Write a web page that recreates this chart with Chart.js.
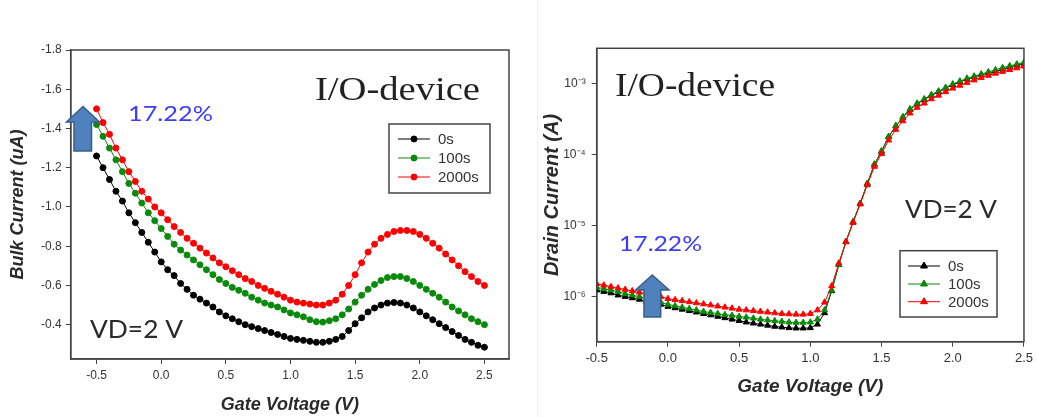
<!DOCTYPE html>
<html>
<head>
<meta charset="utf-8">
<script src="https://cdn.jsdelivr.net/npm/chart.js@4.4.1/dist/chart.umd.min.js"></script>
<style>
body { margin:0; background:#fff; width:1037px; height:417px; overflow:hidden; position:relative; }
#bulkChart { position:absolute; left:0; top:0; }
#drainChart { position:absolute; left:520px; top:0; }
#sep { position:absolute; left:537px; top:0; width:1px; height:417px; background:#f0f0f0; }
</style>
</head>
<body>
<canvas id="bulkChart" width="520" height="417"></canvas>
<div id="sep"></div>
<canvas id="drainChart" width="517" height="417"></canvas>
<script>
// gate voltage sweep (V)
const gateVoltage = [-0.5,-0.45,-0.4,-0.35,-0.3,-0.25,-0.2,-0.15,-0.1,-0.05,
    0,0.05,0.1,0.15,0.2,0.25,0.3,0.35,0.4,0.45,
    0.5,0.55,0.6,0.65,0.7,0.75,0.8,0.85,0.9,0.95,
    1,1.05,1.1,1.15,1.2,1.25,1.3,1.35,1.4,1.45,
    1.5,1.55,1.6,1.65,1.7,1.75,1.8,1.85,1.9,1.95,
    2,2.05,2.1,2.15,2.2,2.25,2.3,2.35,2.4,2.45,2.5];

// bulk current (uA)
const bulk0s = [-1.26,-1.20,-1.14,-1.08,-1.03,-0.97,-0.92,-0.87,-0.82,-0.77,
    -0.72,-0.68,-0.65,-0.61,-0.58,-0.55,-0.53,-0.51,-0.49,-0.465,
    -0.445,-0.43,-0.415,-0.40,-0.39,-0.38,-0.37,-0.36,-0.35,-0.34,
    -0.33,-0.325,-0.32,-0.315,-0.31,-0.31,-0.315,-0.325,-0.34,-0.37,
    -0.405,-0.435,-0.465,-0.485,-0.50,-0.51,-0.513,-0.51,-0.50,-0.485,
    -0.465,-0.445,-0.425,-0.405,-0.385,-0.365,-0.345,-0.325,-0.31,-0.295,-0.285];
const bulk100s = [-1.42,-1.36,-1.30,-1.24,-1.18,-1.12,-1.07,-1.02,-0.97,-0.93,
    -0.89,-0.85,-0.81,-0.78,-0.755,-0.73,-0.705,-0.68,-0.655,-0.63,
    -0.61,-0.59,-0.575,-0.56,-0.54,-0.525,-0.51,-0.50,-0.49,-0.475,
    -0.46,-0.45,-0.44,-0.425,-0.415,-0.413,-0.42,-0.43,-0.45,-0.48,
    -0.515,-0.55,-0.58,-0.605,-0.625,-0.64,-0.645,-0.645,-0.635,-0.62,
    -0.60,-0.58,-0.56,-0.54,-0.515,-0.49,-0.47,-0.45,-0.43,-0.415,-0.40];
const bulk2000s = [-1.50,-1.43,-1.37,-1.30,-1.24,-1.18,-1.13,-1.08,-1.04,-1.00,
    -0.97,-0.935,-0.90,-0.87,-0.84,-0.815,-0.79,-0.765,-0.74,-0.715,
    -0.695,-0.675,-0.655,-0.635,-0.62,-0.60,-0.585,-0.57,-0.555,-0.54,
    -0.525,-0.515,-0.51,-0.505,-0.50,-0.50,-0.51,-0.525,-0.555,-0.60,
    -0.655,-0.715,-0.77,-0.81,-0.84,-0.86,-0.875,-0.88,-0.88,-0.875,
    -0.86,-0.84,-0.815,-0.79,-0.76,-0.73,-0.70,-0.67,-0.645,-0.62,-0.60];

// drain current, written as log10(A)
const drain0sExp = [-5.91,-5.93,-5.95,-5.98,-6.00,-6.02,-6.04,-6.07,-6.09,-6.11,
    -6.14,-6.16,-6.18,-6.20,-6.22,-6.24,-6.26,-6.28,-6.30,-6.32,
    -6.34,-6.36,-6.375,-6.39,-6.405,-6.42,-6.43,-6.44,-6.445,-6.445,
    -6.44,-6.39,-6.23,-5.92,-5.55,-5.23,-4.95,-4.69,-4.41,-4.14,
    -3.96,-3.75,-3.60,-3.48,-3.37,-3.29,-3.23,-3.17,-3.12,-3.07,
    -3.02,-2.98,-2.94,-2.91,-2.88,-2.855,-2.83,-2.80,-2.77,-2.745,-2.72];
const drain100sExp = [-5.87,-5.89,-5.91,-5.93,-5.96,-5.98,-6.00,-6.03,-6.05,-6.08,
    -6.11,-6.13,-6.15,-6.17,-6.19,-6.21,-6.225,-6.24,-6.255,-6.265,
    -6.28,-6.29,-6.305,-6.32,-6.33,-6.34,-6.35,-6.36,-6.365,-6.365,
    -6.36,-6.32,-6.19,-5.91,-5.55,-5.23,-4.95,-4.69,-4.41,-4.14,
    -3.95,-3.75,-3.60,-3.47,-3.36,-3.28,-3.22,-3.16,-3.11,-3.06,
    -3.01,-2.97,-2.93,-2.90,-2.87,-2.84,-2.81,-2.78,-2.755,-2.73,-2.705];
const drain2000sExp = [-5.82,-5.84,-5.86,-5.88,-5.90,-5.92,-5.94,-5.96,-5.98,-6.00,
    -6.03,-6.045,-6.06,-6.075,-6.09,-6.105,-6.12,-6.135,-6.15,-6.165,
    -6.18,-6.19,-6.20,-6.21,-6.22,-6.23,-6.24,-6.245,-6.25,-6.25,
    -6.24,-6.19,-6.08,-5.85,-5.53,-5.23,-4.96,-4.70,-4.43,-4.17,
    -3.99,-3.80,-3.65,-3.53,-3.42,-3.34,-3.28,-3.22,-3.17,-3.12,
    -3.07,-3.03,-2.99,-2.955,-2.92,-2.89,-2.86,-2.835,-2.81,-2.785,-2.76];

const seriesNames = ['0s', '100s', '2000s'];
const seriesColors = ['#000000', '#0a8a0a', '#ff0000'];

const gateTicks = [-0.5, 0, 0.5, 1.0, 1.5, 2.0, 2.5];
const bulkTicks = [-1.8, -1.6, -1.4, -1.2, -1.0, -0.8, -0.6, -0.4];
const drainTicks = [1e-6, 1e-5, 1e-4, 1e-3];
const drainTickLabels = ['10⁻⁶', '10⁻⁵', '10⁻⁴', '10⁻³'];

const sans = '"Liberation Sans", Arial, sans-serif';
const axisColor = '#444';
const tickColor = '#333';

function toPoints(ys) {
    return gateVoltage.map((v, i) => ({x: v, y: ys[i]}));
}

// text squeezed/stretched to a given width, like the scaled picture
function fitText(ctx, text, x, y, width, font, color) {
    ctx.save();
    ctx.font = font;
    ctx.fillStyle = color;
    ctx.textBaseline = 'alphabetic';
    ctx.textAlign = 'left';
    const w = ctx.measureText(text).width;
    ctx.translate(x, y);
    ctx.scale(width / w, 1);
    ctx.fillText(text, 0, 0);
    ctx.restore();
}

function drawArrow(ctx, a) {
    ctx.save();
    ctx.beginPath();
    ctx.moveTo(a.tipX, a.tipY);
    ctx.lineTo(a.tipX + a.headHalf, a.baseY);
    ctx.lineTo(a.shaftR, a.baseY);
    ctx.lineTo(a.shaftR, a.bottom);
    ctx.lineTo(a.shaftL, a.bottom);
    ctx.lineTo(a.shaftL, a.baseY);
    ctx.lineTo(a.tipX - a.headHalf, a.baseY);
    ctx.closePath();
    ctx.fillStyle = '#4F81BD';
    ctx.fill();
    ctx.strokeStyle = '#385D8A';
    ctx.lineWidth = 1.5;
    ctx.stroke();
    ctx.restore();
}

function drawLegend(ctx, lg, pointStyle) {
    ctx.save();
    ctx.strokeStyle = axisColor;
    ctx.lineWidth = 1.5;
    ctx.strokeRect(lg.x, lg.y, lg.w, lg.h);
    seriesNames.forEach((name, i) => {
        const y = lg.rows[i];
        ctx.strokeStyle = seriesColors[i];
        ctx.lineWidth = 1;
        ctx.beginPath();
        ctx.moveTo(lg.x1, y);
        ctx.lineTo(lg.x2, y);
        ctx.stroke();
        Chart.helpers.drawPoint(ctx, {pointStyle: pointStyle, radius: pointStyle === 'circle' ? 3 : 4, borderWidth: 1,
            rotation: 0}, (lg.x1 + lg.x2) / 2, y);
        ctx.fillStyle = seriesColors[i];
        ctx.fill();
        ctx.font = '15px ' + sans;
        ctx.fillStyle = '#333';
        ctx.textBaseline = 'middle';
        ctx.fillText(name, lg.tx, y + 1);
    });
    ctx.restore();
}

const extras = {
    id: 'extras',
    afterDatasetsDraw(chart, args, opts) {
        const ctx = chart.ctx;
        const a = chart.chartArea;
        ctx.save();
        ctx.strokeStyle = axisColor;
        ctx.lineWidth = 1.5;
        ctx.strokeRect(a.left, a.top, a.right - a.left, a.bottom - a.top);
        ctx.restore();
        fitText(ctx, 'I/O-device', opts.title[0], opts.title[1], opts.title[2], '33px "Liberation Serif", "Times New Roman", serif', '#222');
        fitText(ctx, '17.22%', opts.pct[0], opts.pct[1], opts.pct[2], '22px Lato, "Open Sans", sans-serif', '#3c3cf5');
        fitText(ctx, 'VD=2 V', opts.vd[0], opts.vd[1], opts.vd[2], '25px Lato, "Open Sans", sans-serif', '#2a2a2a');
        drawArrow(ctx, opts.arrow);
        drawLegend(ctx, opts.legend, opts.pointStyle);
    }
};

function makeDatasets(seriesList, style, radius) {
    return seriesList.map((ys, i) => ({
        label: seriesNames[i],
        data: toPoints(ys),
        borderColor: seriesColors[i],
        backgroundColor: seriesColors[i],
        pointBackgroundColor: seriesColors[i],
        pointBorderColor: seriesColors[i],
        borderWidth: 1,
        pointStyle: style,
        pointRadius: radius,
        pointBorderWidth: 1,
        tension: 0,
        order: 3 - i
    }));
}

function axisTitle(text, size, padding) {
    return {display: true, text: text, color: '#2a2a2a', padding: padding,
        font: {family: sans, size: size, style: 'italic', weight: 'bold'}};
}

new Chart(document.getElementById('bulkChart'), {
    type: 'line',
    data: {datasets: makeDatasets([bulk0s, bulk100s, bulk2000s], 'circle', 3)},
    options: {
        responsive: false,
        animation: false,
        layout: {padding: {top: 50, right: 11, left: 0, bottom: 0}},
        plugins: {
            legend: {display: false},
            tooltip: {enabled: false},
            extras: {
                title: [315, 100, 165],
                pct: [128, 120.5, 85],
                vd: [90, 338, 93],
                arrow: {tipX: 83, tipY: 106.5, baseY: 122, headHalf: 16.5, shaftL: 74, shaftR: 91.5, bottom: 151},
                legend: {x: 389, y: 124, w: 101, h: 69, rows: [139, 158, 177], x1: 398, x2: 430, tx: 438},
                pointStyle: 'circle'
            }
        },
        scales: {
            x: {
                type: 'linear', min: -0.7, max: 2.69,
                afterBuildTicks: s => { s.ticks = gateTicks.map(v => ({value: v})); },
                afterFit: s => { s.height = 58; },
                ticks: {callback: v => v.toFixed(1), color: tickColor, padding: 4, maxRotation: 0, autoSkip: false,
                    font: {family: sans, size: 12}},
                grid: {drawOnChartArea: false, tickLength: 5, color: axisColor},
                border: {color: axisColor, width: 1.5},
                title: axisTitle('Gate Voltage (V)', 18, {top: 0, bottom: 1})
            },
            y: {
                type: 'linear', reverse: true, min: -1.8, max: -0.225,
                afterBuildTicks: s => { s.ticks = bulkTicks.map(v => ({value: v})); },
                afterFit: s => { s.width = 70.7; },
                ticks: {callback: v => v.toFixed(1), color: tickColor, padding: 4, autoSkip: false,
                    font: {family: sans, size: 12}},
                grid: {drawOnChartArea: false, tickLength: 5, color: axisColor},
                border: {color: axisColor, width: 1.5},
                title: axisTitle('Bulk Current (uA)', 18, {top: 7, bottom: 0})
            }
        }
    },
    plugins: [extras]
});

const drainData = [drain0sExp, drain100sExp, drain2000sExp].map(s => s.map(e => Math.pow(10, e)));

new Chart(document.getElementById('drainChart'), {
    type: 'line',
    data: {datasets: makeDatasets(drainData, 'triangle', 3.5)},
    options: {
        responsive: false,
        animation: false,
        layout: {padding: {top: 48.3, right: 13, left: 0, bottom: 0}},
        plugins: {
            legend: {display: false},
            tooltip: {enabled: false},
            extras: {
                title: [95, 95.5, 160],
                pct: [99, 250.5, 83],
                vd: [385, 217.5, 92],
                arrow: {tipX: 132.3, tipY: 275, baseY: 290, headHalf: 16.7, shaftL: 124, shaftR: 140.7, bottom: 317},
                legend: {x: 380, y: 250.7, w: 97, h: 66.3, rows: [266, 284, 301.7], x1: 388, x2: 420, tx: 428},
                pointStyle: 'triangle'
            }
        },
        scales: {
            x: {
                type: 'linear', min: -0.5, max: 2.5,
                afterBuildTicks: s => { s.ticks = gateTicks.map(v => ({value: v})); },
                afterFit: s => { s.height = 75.3; },
                ticks: {callback: v => v.toFixed(1), color: tickColor, padding: 4, maxRotation: 0, autoSkip: false,
                    font: {family: sans, size: 13}},
                grid: {drawOnChartArea: false, tickLength: 5, color: axisColor},
                border: {color: axisColor, width: 1.5},
                title: axisTitle('Gate Voltage (V)', 19, {top: 0, bottom: 19})
            },
            y: {
                type: 'logarithmic', min: 2.32e-7, max: 3.11e-3,
                afterBuildTicks: s => { s.ticks = drainTicks.map(v => ({value: v})); },
                afterFit: s => { s.width = 76.7; },
                ticks: {callback: (v, i) => drainTickLabels[i], color: tickColor, padding: 6, autoSkip: false,
                    font: {family: sans, size: 12}},
                grid: {drawOnChartArea: false, tickLength: 5, color: axisColor},
                border: {color: axisColor, width: 1.5},
                title: axisTitle('Drain Current (A)', 20, {top: 20, bottom: 0})
            }
        }
    },
    plugins: [extras]
});
</script>
</body>
</html>
